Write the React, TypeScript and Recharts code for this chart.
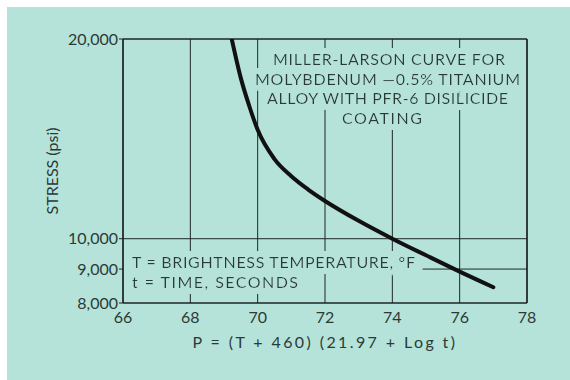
import React from 'react';
import {
  LineChart,
  Line,
  XAxis,
  YAxis,
  CartesianGrid,
  ReferenceLine,
  Customized,
} from 'recharts';

// P = (T + 460)(21.97 + log t)
const pValues = [69.23, 69.5, 69.75, 70, 70.5, 71, 71.5, 72, 73, 74, 75, 76, 77];
const stressValues = [20000, 17460, 15850, 14590, 13180, 12420, 11860, 11400, 10640, 10000, 9440, 8920, 8450];

const xTicks = [66, 68, 70, 72, 74, 76, 78];
const yTicks = [8000, 9000, 10000, 20000];

const titleLines = [
  'MILLER-LARSON CURVE FOR',
  'MOLYBDENUM —0.5% TITANIUM',
  'ALLOY WITH PFR-6 DISILICIDE',
  'COATING',
];
const legendLines = ['T = BRIGHTNESS TEMPERATURE, °F', 't = TIME, SECONDS'];

const BG = '#b5e3da';
const INK = '#2c3a36';
const GRID = '#1e2624';
const FONT = 'Lato, "Noto Sans", sans-serif';

const data = pValues.map((p, i) => ({ p, stress: stressValues[i] }));

const titleX = [382, 380.5, 380.5, 375];
const titleWidths = [232, 265, 241, 80];
const titleBase = [58, 77.5, 97, 116.5];
const legendWidths = [283, 166];
const legendBase = [261, 281];

// a dilated halo in the background colour cuts the grid behind the notes
const Notes = () => (
  <g fontFamily={FONT} fill={INK}>
    <defs>
      <filter id="knock" x="-10%" y="-20%" width="120%" height="140%">
        <feMorphology in="SourceAlpha" operator="dilate" radius="6" result="grown" />
        <feFlood floodColor={BG} />
        <feComposite in2="grown" operator="in" result="halo" />
        <feMerge>
          <feMergeNode in="halo" />
          <feMergeNode in="SourceGraphic" />
        </feMerge>
      </filter>
    </defs>
    <text fontSize={16} textAnchor="middle" filter="url(#knock)">
      {titleLines.map((t, i) => (
        <tspan
          key={t}
          x={titleX[i]}
          y={titleBase[i]}
          textLength={titleWidths[i]}
          lengthAdjust="spacing"
        >
          {t}
        </tspan>
      ))}
    </text>
    <text fontSize={16} filter="url(#knock)">
      {legendLines.map((t, i) => (
        <tspan
          key={t}
          x={125}
          y={legendBase[i]}
          textLength={legendWidths[i]}
          lengthAdjust="spacing"
        >
          {t}
        </tspan>
      ))}
    </text>
  </g>
);

export default function App() {
  return (
    <div
      style={{
        position: 'absolute',
        left: 7,
        top: 7,
        width: 563,
        height: 373,
        background: BG,
      }}
    >
      <LineChart
        width={563}
        height={373}
        data={data}
        margin={{ top: 32, right: 43, left: 0, bottom: 17 }}
      >
        <CartesianGrid horizontal={false} stroke={GRID} strokeWidth={1} />
        <XAxis
          dataKey="p"
          type="number"
          domain={[66, 78]}
          ticks={xTicks}
          tickLine={false}
          tickSize={0}
          tickMargin={9}
          axisLine={{ stroke: GRID, strokeWidth: 1.5 }}
          tick={{ fill: INK, fontSize: 16, fontFamily: FONT }}
          height={60}
          label={{
            value: 'P = (T + 460) (21.97 + Log t)',
            position: 'insideBottom',
            offset: 15,
            fill: INK,
            fontSize: 16,
            fontFamily: FONT,
            style: { letterSpacing: '2.4px' },
          }}
        />
        <YAxis
          type="number"
          scale="log"
          domain={[8000, 20000]}
          ticks={yTicks}
          allowDataOverflow
          width={116}
          tickSize={4}
          tickMargin={1}
          tickLine={{ stroke: GRID }}
          axisLine={{ stroke: GRID, strokeWidth: 1.5 }}
          tick={{ fill: INK, fontSize: 16, fontFamily: FONT }}
          tickFormatter={(v: number) => v.toLocaleString('en-US')}
          label={{
            value: 'STRESS (psi)',
            angle: -90,
            position: 'insideLeft',
            offset: 45,
            fill: INK,
            fontSize: 16,
            fontFamily: FONT,
            style: { textAnchor: 'middle' },
          }}
        />
        <ReferenceLine y={20000} stroke={GRID} strokeWidth={1.5} />
        <ReferenceLine x={78} stroke={GRID} strokeWidth={1.5} />
        <ReferenceLine y={10000} stroke={GRID} strokeWidth={1} />
        <ReferenceLine
          segment={[
            { x: 74.9, y: 9000 },
            { x: 78, y: 9000 },
          ]}
          stroke={GRID}
          strokeWidth={1}
        />
        <Customized component={Notes} />
        <Line
          type="monotone"
          dataKey="stress"
          stroke="#111"
          strokeWidth={4}
          strokeLinecap="round"
          dot={false}
          isAnimationActive={false}
        />
      </LineChart>
    </div>
  );
}
